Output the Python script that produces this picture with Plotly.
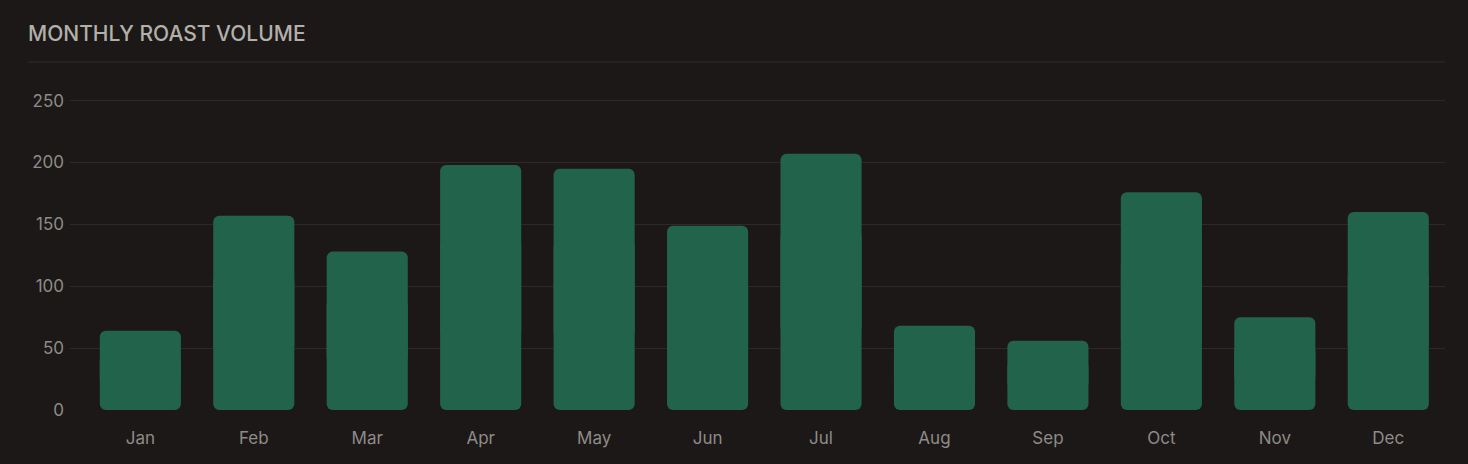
import plotly.graph_objects as go

months = ["Jan", "Feb", "Mar", "Apr", "May", "Jun", "Jul", "Aug", "Sep", "Oct", "Nov", "Dec"]
volume = [64, 157, 128, 198, 195, 149, 207, 68, 56, 176, 75, 160]
y_ticks = [0, 50, 100, 150, 200, 250]
title_text = "MONTHLY ROAST VOLUME"

BG = "#1b1817"
BAR = "#22634b"
GRID = "#2c2927"
TICK = "#8f8b87"
TITLE = "#b3afa9"
FONT = "Inter, Noto Sans, sans-serif"

fig = go.Figure()
# upper part: rounded at the top end
fig.add_trace(go.Bar(
    x=months, y=[v * 0.7 for v in volume], base=[v * 0.3 for v in volume],
    marker=dict(color=BAR, cornerradius=6, line=dict(width=0)),
    width=0.715, hoverinfo="skip", showlegend=False,
))
# lower part: rounded at the bottom end
fig.add_trace(go.Bar(
    x=months, y=[-v * 0.7 for v in volume], base=[v * 0.7 for v in volume],
    marker=dict(color=BAR, cornerradius=6, line=dict(width=0)),
    width=0.715, customdata=volume, hovertemplate="%{x}: %{customdata}<extra></extra>",
    showlegend=False,
))

fig.update_layout(
    width=1468, height=464,
    paper_bgcolor=BG, plot_bgcolor=BG,
    barmode="overlay",
    margin=dict(l=70, r=23, t=80, b=54),
    font=dict(family=FONT, color=TICK, size=17),
    title=dict(
        text=title_text, xref="container", yref="container",
        x=28 / 1468, xanchor="left", y=1 - 34 / 464, yanchor="middle",
        font=dict(family=FONT, size=21, color=TITLE, weight=500),
    ),
    xaxis=dict(
        range=[-0.62, 11.5], showgrid=False, zeroline=False, showline=False,
        ticks="", ticklabelstandoff=16, tickfont=dict(size=17, color=TICK),
    ),
    yaxis=dict(
        range=[0, 266.7], tickvals=y_ticks, showgrid=True, gridcolor=GRID, gridwidth=1,
        zeroline=False, showline=False, ticks="", ticklabelstandoff=5,
        tickfont=dict(size=17, color=TICK),
    ),
    shapes=[dict(
        type="line", xref="paper", yref="paper",
        x0=(28 - 70) / 1375, x1=1, y0=(410 - 62) / 330, y1=(410 - 62) / 330,
        line=dict(color="#2e2b29", width=1),
    )],
)

fig.write_html(
    "out.html",
    config={"displayModeBar": False},
    post_script="document.body.style.margin='0';document.body.style.background='#1b1817';",
)
